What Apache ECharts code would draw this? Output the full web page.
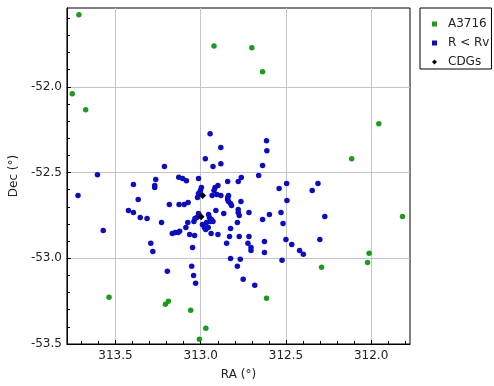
<!DOCTYPE html>
<html>
<head>
<meta charset="utf-8">
<script src="https://cdn.jsdelivr.net/npm/echarts@6/dist/echarts.min.js"></script>
<style>
html,body{margin:0;padding:0;background:#fff;}
#chart{width:494px;height:386px;}
</style>
</head>
<body>
<div id="chart"></div>
<script>
// ---- data ----
const seriesNames = ['A3716', 'R < Rv', 'CDGs'];
const raA3716 = [313.715, 312.922, 312.700, 312.637, 313.754, 313.675, 311.955, 312.114, 311.816, 312.012, 312.021, 312.291, 312.614, 313.538, 313.190, 313.207, 313.059, 312.970, 313.008];
const decA3716 = [-51.580, -51.761, -51.772, -51.912, -52.040, -52.133, -52.215, -52.419, -52.756, -52.971, -53.024, -53.053, -53.233, -53.228, -53.251, -53.268, -53.303, -53.408, -53.472];
const raRv = [312.945, 312.614, 312.612, 312.882, 312.973, 312.928, 312.882, 312.637, 313.213, 313.606,
  312.660, 313.129, 313.106, 313.084, 313.013, 313.264, 312.762, 312.780, 312.842, 312.496,
  312.312, 313.395, 313.270, 313.270, 312.996, 313.002, 313.013, 313.019, 312.899, 312.916,
  312.922, 312.540, 312.346, 312.933, 312.905, 312.882, 312.837, 312.842, 312.842, 313.720,
  313.367, 312.764, 312.494, 312.837, 312.825, 312.819, 313.184, 313.127, 313.097, 313.074,
  313.424, 313.395, 312.911, 312.780, 312.780, 312.774, 312.717, 312.529, 312.865, 312.597,
  313.355, 313.315, 312.954, 312.949, 312.937, 312.928, 312.945, 312.272, 312.637, 313.230,
  313.076, 313.040, 313.034, 313.023, 313.013, 312.785, 312.517, 312.990, 312.966, 312.979,
  312.956, 312.971, 313.087, 312.825, 313.572, 313.167, 313.150, 313.133, 313.124, 313.065,
  313.036, 312.939, 312.899, 312.831, 312.774, 312.717, 312.500, 312.301, 312.626, 313.293,
  312.848, 312.723, 312.466, 312.705, 312.705, 313.281, 313.048, 312.420, 312.626, 312.398,
  312.825, 312.768, 312.523, 313.053, 312.785, 313.196, 313.042, 312.751, 313.030, 312.683];
const decRv = [-52.273, -52.314, -52.372, -52.354, -52.419, -52.465, -52.448, -52.459, -52.465, -52.512,
  -52.517, -52.527, -52.535, -52.547, -52.535, -52.541, -52.529, -52.552, -52.552, -52.564,
  -52.564, -52.570, -52.576, -52.587, -52.587, -52.605, -52.622, -52.646, -52.576, -52.587,
  -52.605, -52.593, -52.605, -52.634, -52.628, -52.634, -52.634, -52.646, -52.657, -52.634,
  -52.657, -52.669, -52.663, -52.669, -52.680, -52.692, -52.686, -52.686, -52.686, -52.675,
  -52.721, -52.733, -52.721, -52.715, -52.733, -52.750, -52.733, -52.733, -52.739, -52.744,
  -52.762, -52.768, -52.744, -52.762, -52.774, -52.785, -52.785, -52.756, -52.774, -52.791,
  -52.791, -52.785, -52.768, -52.762, -52.739, -52.791, -52.797, -52.803, -52.791, -52.820,
  -52.820, -52.832, -52.820, -52.826, -52.838, -52.855, -52.849, -52.849, -52.843, -52.861,
  -52.867, -52.855, -52.861, -52.873, -52.873, -52.873, -52.890, -52.890, -52.902, -52.913,
  -52.913, -52.913, -52.919, -52.937, -52.954, -52.960, -52.937, -52.954, -52.966, -52.977,
  -53.001, -53.006, -53.012, -53.047, -53.047, -53.076, -53.100, -53.123, -53.146, -53.158];
const raCDG = [312.989, 312.998];
const decCDG = [-52.634, -52.758];
const raTicks = [313.5, 313.0, 312.5, 312.0];
const decTicks = [-53.5, -53.0, -52.5, -52.0];
const raMinorTicks = [313.7, 313.6, 313.5, 313.4, 313.3, 313.2, 313.1, 313.0, 312.9, 312.8, 312.7, 312.6, 312.5, 312.4, 312.3, 312.2, 312.1, 312.0, 311.9, 311.8];
const decMinorTicks = [-53.5, -53.4, -53.3, -53.2, -53.1, -53.0, -52.9, -52.8, -52.7, -52.6, -52.5, -52.4, -52.3, -52.2, -52.1, -52.0, -51.9, -51.8, -51.7, -51.6];
const raRange = [311.772, 313.785];
const decRange = [-53.5, -51.54];

const zip = (a, b) => a.map((v, i) => [v, b[i]]);
const FONT = 'DejaVu Sans';
const TXT = '#222';
const GREEN = '#1c9c1c';
const BLUE = '#0b0bc8';

const chart = echarts.init(document.getElementById('chart'), null, {renderer: 'canvas'});
chart.setOption({
  animation: false,
  backgroundColor: '#fff',
  textStyle: {fontFamily: FONT},
  grid: {left: 57, top: 8, width: 353, height: 337, show: true, borderColor: '#000', borderWidth: 1, backgroundColor: 'transparent'},
  legend: {
    left: 420, top: 8, orient: 'vertical',
    borderColor: '#000', borderWidth: 1, borderRadius: 0,
    padding: [10, 2, 1, 12], itemGap: 7, itemWidth: 5, itemHeight: 5,
    textStyle: {fontFamily: FONT, fontSize: 12, color: TXT, padding: [0, 0, 0, 6]},
    data: [
      {name: seriesNames[0], icon: 'rect', itemStyle: {color: GREEN, opacity: 1}},
      {name: seriesNames[1], icon: 'rect', itemStyle: {color: BLUE, opacity: 1}},
      {name: seriesNames[2], icon: 'diamond', itemStyle: {color: '#000', opacity: 1}}
    ]
  },
  xAxis: [
    {
      type: 'value', inverse: true, min: raRange[0], max: raRange[1],
      name: 'RA (°)', nameLocation: 'middle', nameGap: 25,
      nameTextStyle: {fontFamily: FONT, fontSize: 12, color: TXT},
      axisLine: {show: true, onZero: false, lineStyle: {color: '#000'}},
      axisTick: {show: true, inside: true, length: 4, customValues: raTicks, lineStyle: {color: '#000'}},
      axisLabel: {customValues: raTicks, margin: 6, fontFamily: FONT, fontSize: 12, color: TXT, formatter: v => v.toFixed(1)},
      splitLine: {show: true, lineStyle: {color: '#c4c4c4', width: 1}}
    },
    {
      type: 'value', inverse: true, min: raRange[0], max: raRange[1], position: 'bottom',
      axisLine: {show: false, onZero: false},
      axisTick: {show: true, inside: true, length: 3, customValues: raMinorTicks, lineStyle: {color: '#000'}},
      axisLabel: {show: false},
      splitLine: {show: false}
    }
  ],
  yAxis: [
    {
      type: 'value', min: decRange[0], max: decRange[1],
      name: 'Dec (°)', nameLocation: 'middle', nameGap: 41, nameRotate: 90,
      nameTextStyle: {fontFamily: FONT, fontSize: 12, color: TXT},
      axisLine: {show: true, onZero: false, lineStyle: {color: '#000'}},
      axisTick: {show: true, inside: true, length: 4, customValues: decTicks, lineStyle: {color: '#000'}},
      axisLabel: {customValues: decTicks, margin: 5, fontFamily: FONT, fontSize: 12, color: TXT, formatter: v => v.toFixed(1)},
      splitLine: {show: true, lineStyle: {color: '#c4c4c4', width: 1}}
    },
    {
      type: 'value', min: decRange[0], max: decRange[1], position: 'left',
      axisLine: {show: false, onZero: false},
      axisTick: {show: true, inside: true, length: 3, customValues: decMinorTicks, lineStyle: {color: '#000'}},
      axisLabel: {show: false},
      splitLine: {show: false}
    }
  ],
  series: [
    {name: seriesNames[0], type: 'scatter', xAxisIndex: 0, yAxisIndex: 0, symbol: 'circle', symbolSize: 5.5,
     itemStyle: {color: GREEN, opacity: 1}, data: zip(raA3716, decA3716)},
    {name: seriesNames[1], type: 'scatter', xAxisIndex: 0, yAxisIndex: 0, symbol: 'circle', symbolSize: 5.5,
     itemStyle: {color: BLUE, opacity: 1}, data: zip(raRv, decRv)},
    {name: seriesNames[2], type: 'scatter', xAxisIndex: 0, yAxisIndex: 0, symbol: 'diamond', symbolSize: 7,
     itemStyle: {color: '#000', opacity: 1}, data: zip(raCDG, decCDG)}
  ]
});
</script>
</body>
</html>
